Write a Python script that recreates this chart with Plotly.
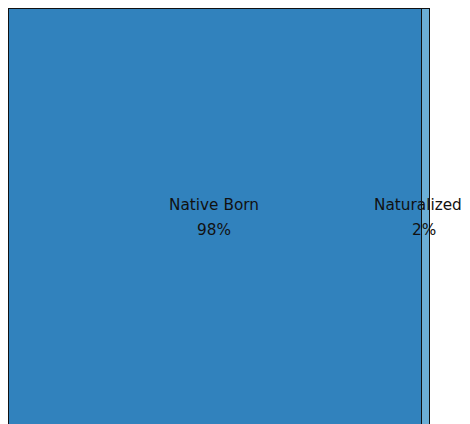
import plotly.graph_objects as go

categories = ["Native Born", "Naturalized"]
shares = [98, 2]
colors = ["#3182bd", "#6baed6"]
name_shift = [-1.5, -8]

fig = go.Figure()
for name, val, col in zip(categories, shares, colors):
    fig.add_trace(go.Bar(
        x=[val], y=[0], orientation="h", name=name,
        marker=dict(color=col, line=dict(color="#111111", width=1.5)),
        width=1, hoverinfo="skip", showlegend=False,
    ))

cum = 0
for name, val, sh in zip(categories, shares, name_shift):
    mid = cum + val / 2
    cum += val
    fig.add_annotation(x=mid, y=0, text=name, showarrow=False, yshift=14, xshift=sh,
                       font=dict(family="DejaVu Sans", size=15.3, color="#111111"))
    fig.add_annotation(x=mid, y=0, text=f"{val}%", showarrow=False, yshift=-11, xshift=-1.5,
                       font=dict(family="DejaVu Sans", size=15.3, color="#111111"))

fig.update_layout(
    width=462, height=416, barmode="stack", bargap=0,
    margin=dict(l=0, r=0, t=0, b=0),
    paper_bgcolor="white", plot_bgcolor="white",
    xaxis=dict(range=[-0.2375, 109.50], visible=False, fixedrange=True),
    yaxis=dict(range=[0.50119 - 416 / 421.5, 0.50119], visible=False, fixedrange=True),
)
fig.write_html("out.html")
